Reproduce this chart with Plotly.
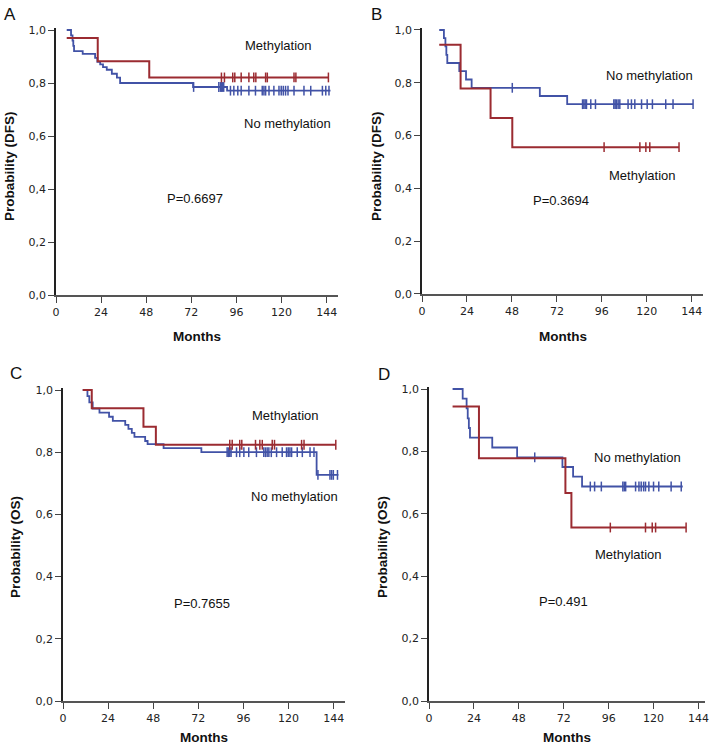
import plotly.graph_objects as go

W, H = 713, 744
BLUE = "#4152a6"
RED = "#9b2b31"

# ---------------- data (months, survival probability) ----------------
# Panel A (DFS)
a_nm_start = 5.7
a_nm_times = [8.0, 8.8, 9.2, 9.6, 14.2, 20.8, 22.0, 23.5, 25.0, 27.0, 29.7, 32.4, 34.1, 72.9, 91.0]
a_nm_surv = [0.98, 0.96, 0.94, 0.92, 0.91, 0.895, 0.88, 0.87, 0.86, 0.85, 0.835, 0.82, 0.80, 0.785, 0.771]
a_nm_end = 146.0
a_nm_cens = [73.2, 86.6, 87.5, 88.0, 88.5, 89.2, 92.8, 94.6, 96.7, 98.5, 102.6, 106.1, 109.7, 110.6,
             111.5, 113.3, 115.9, 118.6, 119.8, 120.9, 122.1, 123.4, 126.6, 131.9, 135.5, 141.7, 143.5, 145.2]
a_m_start = 5.7
a_m_s0 = 0.97
a_m_times = [22.2, 49.6]
a_m_surv = [0.882, 0.821]
a_m_end = 144.9
a_m_cens = [88.0, 89.6, 94.0, 95.1, 98.5, 102.6, 105.2, 106.3, 111.5, 112.4, 126.6, 127.6, 144.9]

# Panel B (DFS)
b_nm_start = 9.2
b_nm_times = [11.7, 12.5, 13.0, 13.5, 19.9, 23.5, 26.5, 62.9, 77.5]
b_nm_surv = [0.969, 0.938, 0.906, 0.875, 0.844, 0.8125, 0.781, 0.75, 0.719]
b_nm_end = 144.7
b_nm_cens = [48.2, 85.7, 86.4, 87.1, 87.8, 90.1, 92.6, 102.4, 103.1, 103.8, 104.7, 105.6, 110.0,
             111.8, 113.6, 117.2, 120.2, 123.0, 130.1, 134.0, 144.7]
b_m_start = 9.2
b_m_s0 = 0.944
b_m_times = [20.6, 36.6, 48.2]
b_m_surv = [0.778, 0.667, 0.556]
b_m_end = 137.2
b_m_cens = [97.2, 116.3, 119.5, 121.6, 137.2]

# Panel C (OS)
c_nm_start = 10.5
c_nm_times = [13.0, 14.0, 15.8, 19.4, 24.5, 26.5, 33.1, 34.8, 36.6, 38.0, 43.7, 45.0, 53.5, 73.6, 134.9]
c_nm_surv = [0.98, 0.96, 0.94, 0.927, 0.914, 0.901, 0.888, 0.875, 0.862, 0.849, 0.836, 0.826, 0.813, 0.80, 0.727]
c_nm_end = 146.5
c_nm_cens = [87.3, 88.0, 88.7, 89.4, 92.3, 94.0, 96.2, 98.8, 102.9, 106.8, 107.7, 108.6, 109.5, 110.8,
             113.6, 116.6, 118.9, 119.8, 120.7, 121.6, 124.6, 127.3, 131.4, 133.5, 135.6, 142.0,
             142.9, 143.8, 146.0]
c_m_start = 10.5
c_m_s0 = 1.0
c_m_times = [15.3, 42.8, 49.4]
c_m_surv = [0.941, 0.882, 0.824]
c_m_end = 145.1
c_m_cens = [88.7, 90.0, 94.0, 95.1, 102.4, 104.7, 106.0, 111.3, 112.5, 126.9, 128.2, 145.1]

# Panel D (OS)
d_nm_start = 12.6
d_nm_times = [18.0, 20.1, 20.7, 21.3, 21.9, 33.8, 47.1, 71.3, 77.0, 81.8]
d_nm_surv = [0.969, 0.938, 0.906, 0.875, 0.844, 0.8125, 0.781, 0.75, 0.719, 0.6875]
d_nm_end = 135.6
d_nm_cens = [56.5, 86.2, 88.5, 92.1, 103.6, 104.4, 105.1, 110.4, 112.2, 113.4, 114.7, 115.7, 117.5,
             120.0, 122.8, 129.4, 134.8]
d_m_start = 12.6
d_m_s0 = 0.944
d_m_times = [26.7, 72.9, 76.1]
d_m_surv = [0.778, 0.667, 0.556]
d_m_end = 137.4
d_m_cens = [96.9, 115.7, 119.3, 121.1, 137.4]

x_ticks = [0, 24, 48, 72, 96, 120, 144]
y_ticks = [0.0, 0.2, 0.4, 0.6, 0.8, 1.0]

panels = [
    dict(letter="A", ytitle="Probability (DFS)", p="P=0.6697",
         nm=(a_nm_start, 1.0, a_nm_times, a_nm_surv, a_nm_end, a_nm_cens),
         m=(a_m_start, a_m_s0, a_m_times, a_m_surv, a_m_end, a_m_cens),
         xd=(56, 338), y0=295, y1=30, xmax=150,
         letter_xy=(2, 3), ytitle_xy=(9, 166), months_y=337,
         m_lab=(278, 46), nm_lab=(287, 124), p_xy=(195, 198)),
    dict(letter="B", ytitle="Probability (DFS)", p="P=0.3694",
         nm=(b_nm_start, 1.0, b_nm_times, b_nm_surv, b_nm_end, b_nm_cens),
         m=(b_m_start, b_m_s0, b_m_times, b_m_surv, b_m_end, b_m_cens),
         xd=(422, 703), y0=294, y1=30, xmax=150,
         letter_xy=(369, 3), ytitle_xy=(376, 166), months_y=337,
         m_lab=(642, 175), nm_lab=(649, 75), p_xy=(561, 200)),
    dict(letter="C", ytitle="Probability (OS)", p="P=0.7655",
         nm=(c_nm_start, 1.0, c_nm_times, c_nm_surv, c_nm_end, c_nm_cens),
         m=(c_m_start, c_m_s0, c_m_times, c_m_surv, c_m_end, c_m_cens),
         xd=(63, 345), y0=701, y1=390, xmax=150,
         letter_xy=(8, 362), ytitle_xy=(15, 547), months_y=737,
         m_lab=(285, 416), nm_lab=(294, 496), p_xy=(202, 603)),
    dict(letter="D", ytitle="Probability (OS)", p="P=0.491",
         nm=(d_nm_start, 1.0, d_nm_times, d_nm_surv, d_nm_end, d_nm_cens),
         m=(d_m_start, d_m_s0, d_m_times, d_m_surv, d_m_end, d_m_cens),
         xd=(429, 705), y0=701, y1=389, xmax=147.5,
         letter_xy=(376, 363), ytitle_xy=(382, 547), months_y=737,
         m_lab=(628, 554), nm_lab=(637, 457), p_xy=(563, 601)),
]


def step_xy(start, s0, times, surv, end):
    xs = [start] + list(times) + [end]
    ys = [s0] + list(surv) + [surv[-1]]
    return xs, ys


def surv_at(t, s0, times, surv):
    s = s0
    for ti, si in zip(times, surv):
        if ti <= t:
            s = si
    return s


fig = go.Figure()
TEXT_FONT = dict(family="Liberation Sans, Arial, sans-serif", size=13, color="#111")
TITLE_FONT = dict(family="Liberation Sans, Arial, sans-serif", size=13.5, color="#111")
YPAD = 0.008


def ann(text, px, py, font, **kw):
    d = dict(text=text, x=px / W, y=1 - py / H, xref="paper", yref="paper",
             xanchor="center", yanchor="middle", showarrow=False, font=font)
    d.update(kw)
    return d


annotations = []
for i, pnl in enumerate(panels):
    k = "" if i == 0 else str(i + 1)
    xa, ya = "x" + k, "y" + k
    for key, col, lw in (("nm", BLUE, 1.8), ("m", RED, 2.0)):
        start, s0, times, surv, end, cens = pnl[key]
        xs, ys = step_xy(start, s0, times, surv, end)
        fig.add_trace(go.Scatter(x=xs, y=ys, mode="lines", line=dict(color=col, width=lw, shape="hv"),
                                 xaxis=xa, yaxis=ya, showlegend=False, hoverinfo="skip"))
        cy = [surv_at(t, s0, times, surv) for t in cens]
        fig.add_trace(go.Scatter(x=cens, y=cy, mode="markers",
                                 marker=dict(symbol="line-ns-open", size=7, color=col,
                                             line=dict(color=col, width=1.5)),
                                 xaxis=xa, yaxis=ya, showlegend=False, hoverinfo="skip", cliponaxis=False))
    x0p, x1p = pnl["xd"]
    y0p, y1p = pnl["y0"], pnl["y1"]
    ytop = y0p - (y0p - y1p) * (1 + YPAD)
    fig.update_layout(**{
        "xaxis" + k: dict(domain=[x0p / W, x1p / W], range=[0, pnl["xmax"]], anchor=ya,
                          automargin=False,
                          tickvals=x_ticks, ticks="outside", ticklen=6, tickwidth=1.3, tickcolor="#444",
                          showline=True, linecolor="#555", linewidth=2, showgrid=False, zeroline=False,
                          tickfont=dict(family="DejaVu Sans", size=11, color="#222")),
        "yaxis" + k: dict(domain=[1 - y0p / H, 1 - ytop / H], range=[0, 1 + YPAD], anchor=xa,
                          automargin=False,
                          tickvals=y_ticks, tickformat=".1f", ticks="outside", ticklen=6, tickwidth=1.3,
                          tickcolor="#444", showline=True, linecolor="#222", linewidth=1.5,
                          showgrid=False, zeroline=False,
                          tickfont=dict(family="DejaVu Sans", size=11, color="#222")),
    })
    lx, ly = pnl["letter_xy"]
    annotations.append(ann(pnl["letter"], lx, ly,
                           dict(family="Liberation Sans, Arial, sans-serif", size=17, color="#111"),
                           xanchor="left", yanchor="top"))
    tx, ty = pnl["ytitle_xy"]
    annotations.append(ann("<b>%s</b>" % pnl["ytitle"], tx, ty, TITLE_FONT, textangle=-90))
    annotations.append(ann("<b>Months</b>", (x0p + x1p) / 2, pnl["months_y"], TITLE_FONT))
    for lab, key in (("Methylation", "m_lab"), ("No methylation", "nm_lab"), (pnl["p"], "p_xy")):
        px, py = pnl[key]
        annotations.append(ann(lab, px, py, TEXT_FONT))

fig.update_layout(width=W, height=H, margin=dict(l=0, r=0, t=0, b=0, autoexpand=False),
                  paper_bgcolor="white", plot_bgcolor="white", separators=", ",
                  annotations=annotations, showlegend=False)

fig.write_html("out.html", config={"displayModeBar": False},
               post_script="document.body.style.margin='0';document.body.style.overflow='hidden';")
